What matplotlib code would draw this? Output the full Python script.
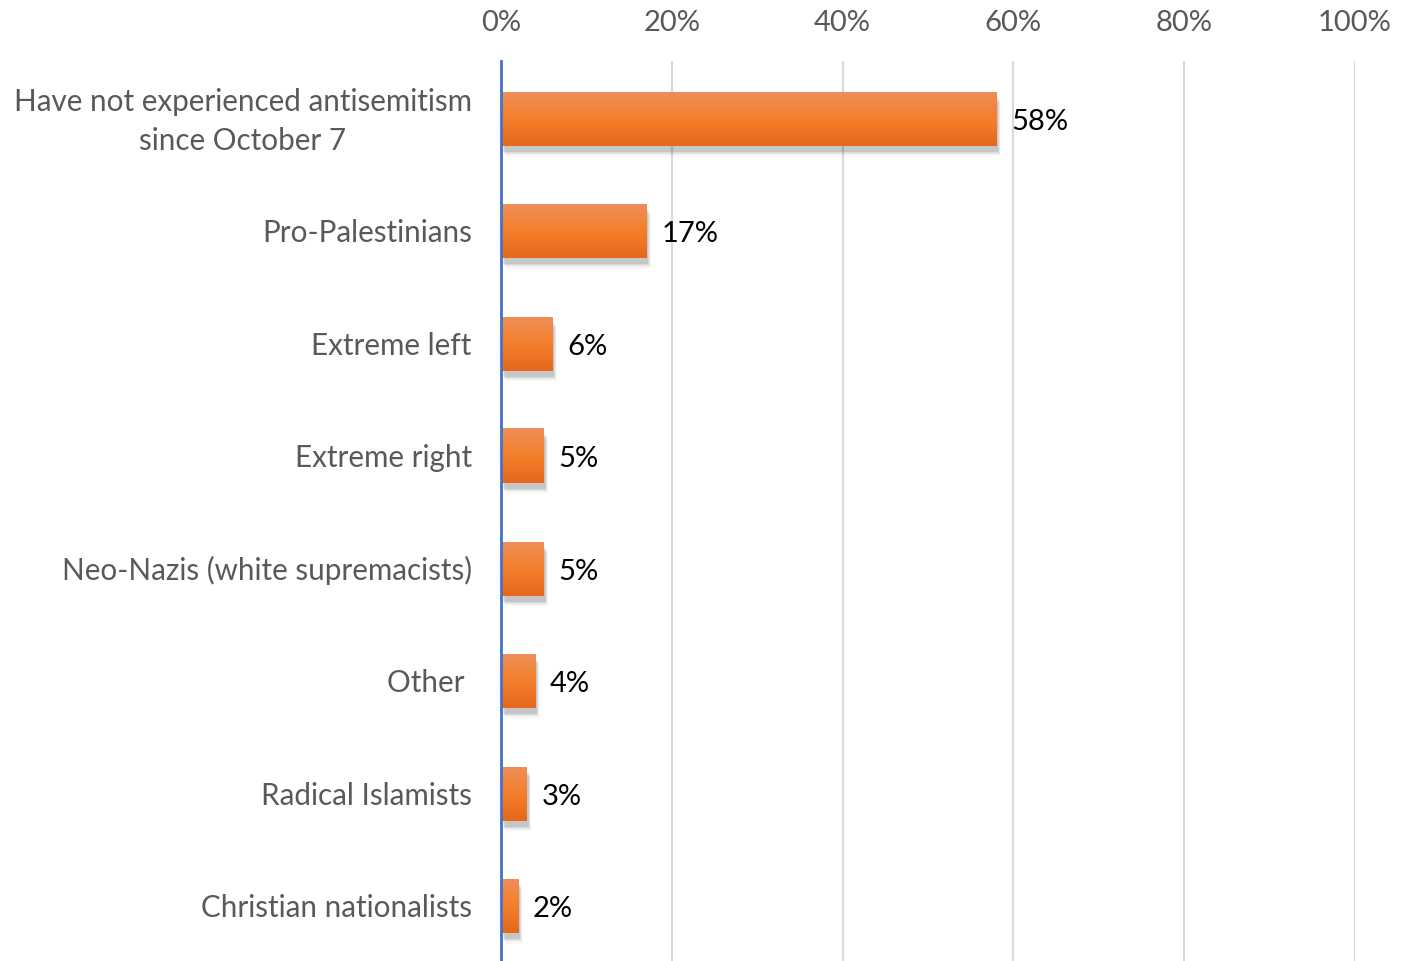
import matplotlib
matplotlib.use("Agg")
import matplotlib.pyplot as plt
import matplotlib.transforms as mtransforms
import numpy as np
from matplotlib.colors import LinearSegmentedColormap

plt.rcParams["font.family"] = ["Lato", "DejaVu Sans"]

categories = [
    "Have not experienced antisemitism\nsince October 7",
    "Pro-Palestinians",
    "Extreme left",
    "Extreme right",
    "Neo-Nazis (white supremacists)",
    "Other ",
    "Radical Islamists",
    "Christian nationalists",
]
values = [58, 17, 6, 5, 5, 4, 3, 2]
xticks = [0, 20, 40, 60, 80, 100]

BAR_H = 0.48
grad = LinearSegmentedColormap.from_list(
    "bar", ["#EE8E58", "#F47F2A", "#E5681C"])

fig = plt.figure(figsize=(14.17, 9.62), dpi=100)
ax = fig.add_axes([501 / 1417, 0.0, 854 / 1417, 1 - 62 / 962])

grad_img = np.linspace(0, 1, 64).reshape(-1, 1)
for i, v in enumerate(values):
    top, bot = i - BAR_H / 2 + 0.015, i + BAR_H / 2 + 0.015
    # soft drop shadow
    for k, a in enumerate([0.09, 0.07, 0.05, 0.035, 0.02]):
        d = 0.01 * (k + 1)
        ax.add_patch(plt.Rectangle((0.15 + d * 8, top + 0.04 + d), v, BAR_H,
                                   facecolor="#202020", alpha=a, lw=0, zorder=2))
    ax.imshow(grad_img, cmap=grad, aspect="auto", extent=(0, v, bot, top),
              zorder=3, interpolation="bilinear")
    ax.text(v + 1.75, i + 0.03, f"{v}%", va="center", ha="left", fontsize=21,
            color="black", zorder=4)

ax.set_xlim(0, 100)
ax.set_ylim(len(categories) - 0.5, -0.5)

ax.set_xticks(xticks)
ax.set_xticklabels([f"{t}%" for t in xticks])
ax.xaxis.tick_top()
ax.set_yticks(range(len(categories)))
ax.set_yticklabels(categories, linespacing=1.5)
ax.tick_params(axis="y", length=0, pad=21, labelsize=21.3, labelcolor="#595959")
ax.tick_params(axis="x", length=0, pad=19, labelsize=21, labelcolor="#595959")
first = ax.get_yticklabels()[0]
first.set_multialignment("center")
first.set_transform(first.get_transform()
                    + mtransforms.ScaledTranslation(0, 5 / 100, fig.dpi_scale_trans))

ax.grid(axis="x", color="#D9D9D9", lw=1.5, zorder=0)
ax.set_axisbelow(True)
for s in ["top", "right", "bottom"]:
    ax.spines[s].set_visible(False)
ax.spines["left"].set_color("#4472C4")
ax.spines["left"].set_linewidth(2)
ax.spines["left"].set_zorder(5)

fig.savefig("out.png", dpi=100)
